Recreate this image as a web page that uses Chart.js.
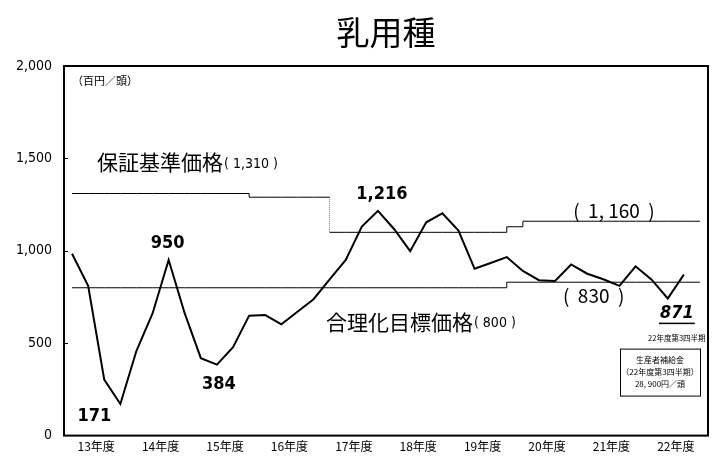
<!DOCTYPE html>
<html lang="ja">
<head>
<meta charset="UTF-8">
<title>乳用種</title>
<script src="https://cdn.jsdelivr.net/npm/chart.js@4.4.8/dist/chart.umd.min.js"></script>
<style>
  body { margin: 0; background: #fff; }
</style>
</head>
<body>
<canvas id="chart" width="718" height="456"></canvas>
<script>
// year labels on the axis (each year = 4 quarters)
const years = ['13年度', '14年度', '15年度', '16年度', '17年度', '18年度', '19年度', '20年度', '21年度', '22年度'];
const quarterLabels = years.flatMap(y => [1, 2, 3, 4].map(q => y + '第' + q + '四半期'));

// average price per quarter (百円/頭), 13年度Q1 .. 22年度Q3
const price = [984, 810, 303, 171, 459, 661, 950, 661, 419, 384, 478, 649, 652, 602, 670, 738,
               845, 951, 1131, 1216, 1118, 998, 1154, 1203, 1109, 903, 934, 966, 891, 841, 837, 926,
               876, 846, 810, 916, 844, 742, 871];

// 保証基準価格 in effect per quarter
const guarantee = [1310, 1310, 1310, 1310, 1310, 1310, 1310, 1310, 1310, 1310, 1310, 1310,
                   1290, 1290, 1290, 1290,
                   1100, 1100, 1100, 1100, 1100, 1100, 1100, 1100, 1100, 1100, 1100, 1100,
                   1130,
                   1160, 1160, 1160, 1160, 1160, 1160, 1160, 1160, 1160, 1160, 1160];

// 合理化目標価格 in effect per quarter
const target = [800, 800, 800, 800, 800, 800, 800, 800, 800, 800, 800, 800, 800, 800, 800, 800,
                800, 800, 800, 800, 800, 800, 800, 800, 800, 800, 800, 800,
                830, 830, 830, 830, 830, 830, 830, 830, 830, 830, 830, 830];

const yTicks = [0, 500, 1000, 1500, 2000];

const JP = '"Noto Sans CJK JP", sans-serif';
const NUM = '"Liberation Sans Narrow", "DejaVu Sans Condensed", sans-serif';

// guarantee line is split where the level drops with a dotted riser (16年度 -> 17年度)
const cut = 16;
const guarA = guarantee.map((v, i) => i < cut ? v : (i === cut ? guarantee[cut - 1] : null));
const guarB = guarantee.map((v, i) => i >= cut ? v : null);

const annotations = {
  id: 'annotations',
  afterDraw(chart) {
    const { ctx, chartArea: a, scales: { x, y } } = chart;
    const X = i => x.getPixelForValue(i);
    const Y = v => y.getPixelForValue(v);
    const text = (s, px, py, font, align = 'center') => {
      ctx.font = font;
      ctx.textAlign = align;
      ctx.textBaseline = 'middle';
      ctx.fillText(s, px, py);
      return ctx.measureText(s).width;
    };
    ctx.save();
    ctx.fillStyle = '#000';
    ctx.strokeStyle = '#000';

    // frame
    ctx.lineWidth = 2;
    ctx.strokeRect(a.left, a.top, a.right - a.left, a.bottom - a.top);
    // inward y ticks
    ctx.lineWidth = 1;
    yTicks.slice(1, -1).forEach(v => {
      ctx.beginPath();
      ctx.moveTo(a.left, Math.round(Y(v)) + 0.5);
      ctx.lineTo(a.left + 4, Math.round(Y(v)) + 0.5);
      ctx.stroke();
    });

    // title
    text('乳用種', (a.left + a.right) / 2 + 0, 32, '33px ' + JP);
    text('（百円／頭）', a.left + 8, a.top + 15, '11px ' + JP, 'left');

    // level captions
    let w = text('保証基準価格', X(1.55), Y(1478), '21px ' + JP, 'left');
    text('( 1,310 )', X(1.55) + w + 1, Y(1470), '14px ' + NUM, 'left');
    w = text('合理化目標価格', X(15.77), Y(613), '21px ' + JP, 'left');
    text('( 800 )', X(15.77) + w + 1, Y(605), '14px ' + NUM, 'left');
    text('(  1, 160  )', X(33.66), Y(1215), '19px ' + JP);
    text('(  830  )', X(32.4), Y(755), '19px ' + JP);

    // value labels next to notable points
    const marks = [
      { i: 3, dx: -26, dy: 12 },
      { i: 6, dx: -1, dy: -17 },
      { i: 9, dx: 2, dy: 20 },
      { i: 19, dx: 4, dy: -17 }
    ];
    marks.forEach(m => {
      text(price[m.i].toLocaleString('en-US'), X(m.i) + m.dx, Y(price[m.i]) + m.dy, 'bold 18px ' + NUM);
    });
    const last = price.length - 1;
    const lx = X(last) - 7, ly = Y(price[last]) + 39;
    w = text(String(price[last]), lx, ly, 'italic bold 18px ' + NUM);
    ctx.fillRect(lx - w / 2 - 1, ly + 9, w + 2, 1.5);
    text('22年度第3四半期', lx, ly + 25, '7.5px ' + JP);

    // subsidy box
    const bx = a.right - 88, by = a.bottom - 87, bw = 80, bh = 47;
    ctx.lineWidth = 1;
    ctx.strokeRect(bx + 0.5, by + 0.5, bw, bh);
    text('生産者補給金', bx + bw / 2, by + 11, '8px ' + JP);
    text('（22年度第3四半期）', bx + bw / 2, by + 23, '8px ' + JP);
    text('28, 900円／頭', bx + bw / 2, by + 35, '8px ' + JP);
    ctx.restore();
  }
};

new Chart(document.getElementById('chart'), {
  type: 'line',
  data: {
    labels: quarterLabels,
    datasets: [
      {
        label: '乳用種',
        data: price,
        borderColor: '#000',
        borderWidth: 2,
        pointRadius: 0,
        tension: 0
      },
      {
        label: '保証基準価格',
        data: guarA,
        stepped: 'after',
        borderColor: '#000',
        borderWidth: 1,
        pointRadius: 0,
        spanGaps: false
      },
      {
        label: '保証基準価格',
        data: guarB,
        stepped: 'after',
        borderColor: '#000',
        borderWidth: 1,
        pointRadius: 0,
        spanGaps: false
      },
      {
        label: '改定',
        data: [{ x: quarterLabels[cut], y: guarantee[cut - 1] }, { x: quarterLabels[cut], y: guarantee[cut] }],
        borderColor: '#777',
        borderWidth: 1,
        borderDash: [1, 1],
        pointRadius: 0
      },
      {
        label: '合理化目標価格',
        data: target,
        stepped: 'after',
        borderColor: '#000',
        borderWidth: 1,
        pointRadius: 0
      }
    ]
  },
  options: {
    responsive: false,
    animation: false,
    layout: { padding: { top: 66, right: 10, left: 0, bottom: 0 } },
    plugins: {
      legend: { display: false },
      tooltip: { enabled: false }
    },
    scales: {
      x: {
        type: 'category',
        display: false,
        offset: true
      },
      xYear: {
        type: 'category',
        labels: years,
        position: 'bottom',
        offset: true,
        grid: { display: false, drawTicks: false },
        border: { display: false },
        ticks: { color: '#000', font: { family: JP, size: 12 }, padding: 4, maxRotation: 0 },
        afterFit: s => { s.height = 18; }
      },
      y: {
        min: 0,
        max: 2000,
        grid: { display: false, drawTicks: false },
        border: { display: false },
        ticks: {
          stepSize: 500,
          color: '#000',
          padding: 12,
          font: { family: NUM, size: 14 },
          callback: v => v.toLocaleString('en-US')
        },
        afterFit: s => { s.width = 64; }
      }
    }
  },
  plugins: [annotations]
});
</script>
</body>
</html>
